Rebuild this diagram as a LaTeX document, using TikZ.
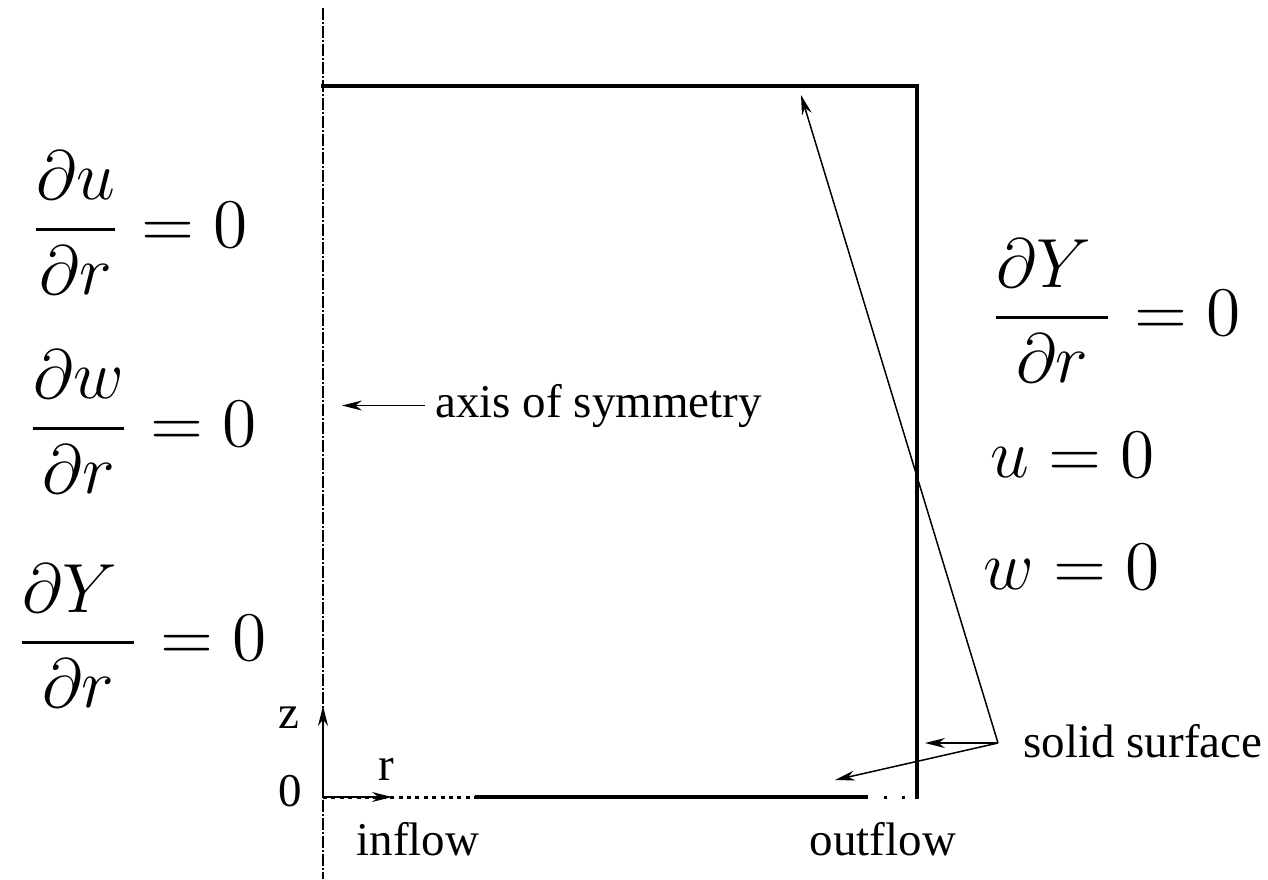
\documentclass[tikz,border=0pt]{standalone}
\usepackage{fontspec}
\setmainfont{Liberation Serif}
\usetikzlibrary{arrows.meta}
\newcommand{\bigmath}[1]{\scalebox{2.9}{\fontsize{12}{14}\selectfont$\displaystyle #1$}}
\begin{document}
\begin{tikzpicture}[x=0.5pt,y=-0.5pt,
  txt/.style={font=\fontsize{23.5}{28}\selectfont, inner sep=0pt},
  mth/.style={inner sep=0pt, anchor=base west},
  wall/.style={line width=2pt, line cap=rect},
  axisline/.style={line width=1pt, dash pattern=on 6pt off 1pt on 1pt off 1pt},
  inflowline/.style={line width=1.5pt, dash pattern=on 2pt off 2.2pt},
  outflowline/.style={line width=1.5pt, dash pattern=on 0pt off 9pt on 1.5pt off 7.5pt on 1.5pt off 20pt},
  arr/.style={line width=0.75pt, -{Stealth[length=10pt,width=5pt]}}]
\useasboundingbox (0,0) rectangle (1268,879);
% coordinates
\coordinate (axtop) at (323,8);
\coordinate (axbot) at (323,879);
\coordinate (TL) at (323,86);
\coordinate (TR) at (917,86);
\coordinate (BR) at (917,797);
\coordinate (O) at (323,797);
\coordinate (inend) at (477,797);
\coordinate (outstart) at (866,797);
\coordinate (ztip) at (323,706);
\coordinate (rtip) at (392,797);
\coordinate (axpt) at (342,403);
\coordinate (ss) at (998,743);
\coordinate (ssA) at (925,743);
\coordinate (ssB) at (835,780);
\coordinate (ssC) at (801,95);
% axis of symmetry
\draw[axisline] (axtop) -- (axbot);
% walls
\draw[wall] (TL) -- (TR) -- (BR);
\draw[wall] (inend) -- (outstart);
\draw[inflowline] (O) -- (inend);
\draw[outflowline] (outstart) -- (BR);
% local axes
\draw[arr] (O) -- (ztip);
\draw[arr] (O) -- (rtip);
\node[txt, anchor=base] (zl) at (289,728) {z};
\node[txt, anchor=base] (rl) at (386,780) {r};
\node[txt, anchor=base] (ol) at (290,806) {0};
\node[txt, anchor=base] (inl) at (418,855) {inflow};
\node[txt, anchor=base] (outl) at (883,855) {outflow};
% axis of symmetry label
\node[txt, anchor=base west] (axlab) at (435,417) {axis of symmetry};
\draw[arr] ([xshift=-5pt]axlab.west) -- (axlab.west -| axpt);
% solid surface label
\node[txt, anchor=base west] (solid) at (1023,757) {solid surface};
\draw[arr] (ss) -- (ssA);
\draw[arr] (ss) -- (ssB);
\draw[arr] (ss) -- (ssC);
% boundary conditions left
\node[mth] (bc1) at (29,247) {\bigmath{\frac{\partial u}{\partial r} = 0}};
\node[mth] (bc2) at (26,446) {\bigmath{\frac{\partial w}{\partial r} = 0}};
\node[mth] (bc3) at (15,660) {\bigmath{\frac{\partial Y\mkern4.5mu}{\partial r} = 0}};
% boundary conditions right
\node[mth] (bc4) at (989,335) {\bigmath{\frac{\partial Y\mkern4.5mu}{\partial r} = 0}};
\node[mth] (bc5) at (990,477) {\bigmath{u = 0}};
\node[mth] (bc6) at (983,589) {\bigmath{w = 0}};
\end{tikzpicture}
\end{document}
